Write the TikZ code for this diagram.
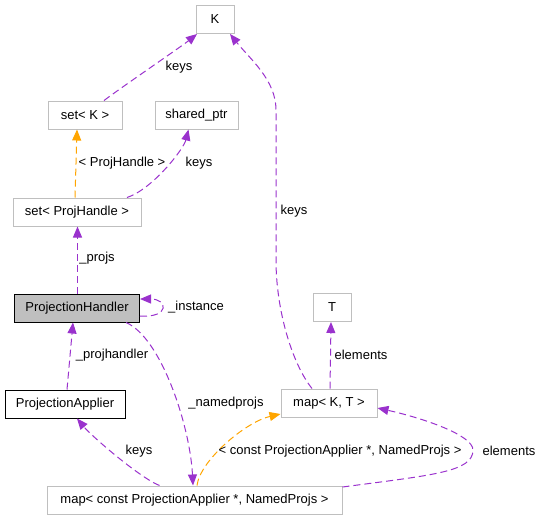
\documentclass[tikz,border=0pt]{standalone}
\usepackage{fontspec}
\setmainfont{Liberation Sans}
\usepackage{tikz}
\usetikzlibrary{arrows.meta}
\definecolor{relpurple}{HTML}{9A32CD}
\definecolor{tmplorange}{HTML}{FFA500}
\definecolor{boxgray}{HTML}{BFBFBF}

\begin{document}
\begin{tikzpicture}[x=1pt,y=-1pt,
  box/.style={draw=boxgray,line width=1pt,minimum height=28pt,inner xsep=0pt,font=\fontsize{13}{15}\selectfont},
  lbl/.style={inner sep=0pt,font=\fontsize{13}{15}\selectfont},
  rel/.style={draw=relpurple,dash pattern=on 7pt off 4pt,line width=1pt,-{Triangle[length=11pt,width=9pt]}},
  tmpl/.style={rel,draw=tmplorange}]
  \useasboundingbox (0,0) rectangle (540,520);
  \node[box,minimum width=38pt] (K) at (215,19.5) {K};
  \node[box,minimum width=74pt] (setK) at (85,115) {set< K >};
  \node[box,minimum width=83pt] (shared) at (196.5,115) {shared\_ptr};
  \node[box,minimum width=128pt] (setPH) at (77,212) {set< ProjHandle >};
  \node[box,draw=black,fill=boxgray,minimum width=125pt] (PH) at (77,308) {ProjectionHandler};
  \node[box,draw=black,minimum width=120pt] (PA) at (65,404) {ProjectionApplier};
  \node[box,minimum width=38pt] (T) at (332,307.5) {T};
  \node[box,minimum width=96pt] (mapKT) at (329,403) {map< K, T >};
  \node[box,minimum width=295pt] (mapPA) at (194.5,500) {map< const ProjectionApplier *, NamedProjs >};

  \draw[rel] ([xshift=19pt]setK.north) .. controls +(20,-15) and +(-15,12) .. ([xshift=-18pt]K.south);
  \draw[tmpl] ([xshift=-2pt]setPH.north) -- ([xshift=-8pt]setK.south);
  \draw[rel] ([xshift=50pt]setPH.north) .. controls +(25,-8) and +(-5,20) .. ([xshift=-8pt]shared.south);
  \draw[rel] ([xshift=0.5pt]PH.north) -- ([xshift=0.5pt]setPH.south);
  \draw[rel] ([yshift=-8pt]PH.east) .. controls +(30,2) and +(28,0) .. ([yshift=9pt]PH.east);
  \draw[rel] ([xshift=2pt]PA.north) -- ([xshift=-4pt]PH.south);
  \draw[rel] ([xshift=49pt]PH.south) .. controls +(35,15) and +(-3,-60) .. ([xshift=-1.5pt]mapPA.north);
  \draw[rel] ([xshift=-35pt]mapPA.north) .. controls +(-20,-8) and +(15,18) .. ([xshift=12pt]PA.south);
  \draw[tmpl] ([xshift=2.5pt]mapPA.north) .. controls +(3,-25) and +(-35,8) .. ([yshift=-11pt]mapKT.west);
  \draw[rel] ([xshift=-17pt]mapKT.north) .. controls +(-20,-25) and +(0,50) .. (276,260) -- (276,110)
    .. controls +(0,-30) and +(20,25) .. ([xshift=15pt]K.south);
  \draw[rel] ([xshift=1pt]mapKT.north) -- ([xshift=-1pt]T.south);
  \draw[rel] ([yshift=13pt]mapPA.east) .. controls +(90,-12) and +(0,22) .. (473,450)
    .. controls +(0,-15) and +(45,10) .. ([yshift=-5pt]mapKT.east);

  \node[lbl] (lkeysK) at (179,67) {keys};
  \node[lbl] (lprojh) at (122,163) {< ProjHandle >};
  \node[lbl] (lkeysS) at (199,163) {keys};
  \node[lbl] (lprojs) at (97,258) {\_projs};
  \node[lbl] (linst) at (196,307) {\_instance};
  \node[lbl] (lprojhandler) at (112,355) {\_projhandler};
  \node[lbl] (lnamed) at (226,403) {\_namedprojs};
  \node[lbl] (lkeysPA) at (139,451) {keys};
  \node[lbl] (lconst) at (340,451) {< const ProjectionApplier *, NamedProjs >};
  \node[lbl] (lelemT) at (361,355) {elements};
  \node[lbl] (lelem) at (509,451) {elements};
  \node[lbl] (lkeysM) at (294,211) {keys};
\end{tikzpicture}
\end{document}
